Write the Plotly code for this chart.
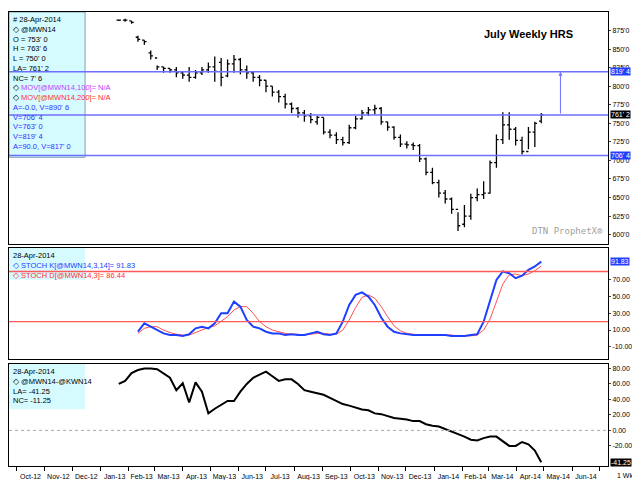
import pandas as pd
import plotly.graph_objects as go
from plotly.subplots import make_subplots

# weekly bars, July HRS (@MWN14), cents/cwt
week_start = "2013-01-21"
n_weeks = 67
opens = [889, 889, 888, 866, 862, 845, 838, 826, 824, 822, 818, 815, 812, 818, 822, 826, 832, 814, 830, 836,
         822, 818, 812, 808, 800, 792, 786, 776, 770, 764, 760, 752, 758, 738, 734, 728, 724, 744, 756, 764,
         768, 770, 752, 745, 731, 722, 721, 720, 702, 684, 670, 656, 648, 634, 614, 625, 650, 654, 656, 697,
         728, 748, 742, 727, 712, 738, 753]
highs = [890, 891, 888, 868, 862, 848, 828, 826, 824, 826, 820, 826, 822, 826, 832, 840, 838, 836, 842, 838,
         828, 820, 815, 808, 800, 795, 790, 778, 772, 768, 764, 760, 758, 742, 738, 732, 748, 760, 768, 772,
         775, 772, 752, 746, 735, 726, 724, 722, 704, 690, 674, 660, 650, 630, 640, 655, 662, 672, 700, 735,
         765, 765, 745, 732, 745, 752, 764]
lows = [888, 887, 884, 860, 856, 836, 822, 818, 818, 812, 810, 806, 810, 815, 818, 806, 800, 812, 818, 816,
        810, 806, 800, 792, 786, 778, 770, 764, 758, 752, 750, 748, 735, 730, 722, 720, 722, 742, 755, 760,
        762, 748, 740, 728, 718, 716, 714, 698, 680, 668, 650, 642, 628, 605, 610, 620, 645, 648, 655, 690,
        722, 728, 720, 708, 715, 718, 750]
closes = [889, 889, 886, 863, 860, 841, 826, 824, 822, 818, 815, 812, 818, 822, 826, 820, 812, 830, 836, 822,
          818, 812, 808, 800, 792, 786, 776, 770, 764, 760, 755, 758, 738, 734, 728, 724, 744, 756, 764, 768,
          770, 752, 745, 731, 722, 721, 720, 702, 684, 670, 656, 648, 634, 612, 625, 650, 654, 656, 697, 728,
          748, 742, 727, 712, 738, 750, 761.25]

stoch_k = [None, None, None, 8, 18, 14, 10, 6, 4, 4, 3, 5, 12, 14, 12, 18, 30, 30, 44, 38,
           22, 14, 12, 8, 6, 6, 4, 5, 4, 4, 6, 8, 5, 4, 6, 20, 40, 52, 55, 50,
           40, 25, 14, 8, 6, 5, 4, 4, 4, 4, 4, 4, 3, 3, 3, 4, 5, 20, 45, 70,
           80, 78, 72, 75, 82, 86, 91.83]
stoch_d = [None, None, None, 6, 12, 14, 14, 10, 7, 5, 4, 4, 7, 10, 13, 15, 20, 26, 34, 38,
           38, 30, 20, 14, 10, 8, 6, 5, 5, 4, 5, 6, 6, 5, 5, 10, 22, 37, 49, 52,
           48, 38, 26, 15, 9, 6, 5, 4, 4, 4, 4, 4, 4, 3, 3, 3, 4, 10, 23, 45,
           65, 76, 77, 75, 77, 81, 86.44]

spread = [60, 64, 74, 78, 80, 80, 79, 74, 68, 52, 61, 36, 62, 50, 22, 28, 33, 38, 38, 50,
          60, 68, 72, 76, 70, 64, 66, 66, 60, 52, 50, 48, 46, 42, 38, 34, 32, 30, 27, 26,
          22, 21, 18, 16, 15, 14, 12, 12, 8, 6, 5, 2, -2, -4, -8, -12, -13, -10, -8, -8,
          -14, -20, -20, -15, -18, -26, -41.25]

levels = [819.5, 761.25, 706.5]
price_ticks = [600, 625, 650, 675, 700, 725, 750, 775, 800, 825, 850, 875]
stoch_ticks = [-10, 10, 30, 50, 70]
stoch_bands = [80, 20]
spread_ticks = [-20, 0, 20, 40, 60, 80]

for arr in (opens, highs, lows, closes, stoch_k, stoch_d, spread):
    assert len(arr) == n_weeks, len(arr)

dates = pd.date_range(week_start, periods=n_weeks, freq="7D")

FONT = "Liberation Sans Narrow, Liberation Sans"
BLUE = "#6f6fff"

fig = make_subplots(rows=3, cols=1, shared_xaxes=True, vertical_spacing=0.01,
                    row_heights=[0.51, 0.245, 0.225])

fig.add_trace(go.Ohlc(x=dates, open=opens, high=highs, low=lows, close=closes,
                      increasing_line_color="black", decreasing_line_color="black",
                      line_width=1.3, tickwidth=0.35, showlegend=False), row=1, col=1)
fig.add_trace(go.Scatter(x=dates, y=stoch_d, mode="lines", line=dict(color="#ff5050", width=1),
                         showlegend=False), row=2, col=1)
fig.add_trace(go.Scatter(x=dates, y=stoch_k, mode="lines", line=dict(color="#1f3fff", width=2),
                         showlegend=False), row=2, col=1)
fig.add_trace(go.Scatter(x=dates, y=spread, mode="lines", line=dict(color="black", width=2),
                         showlegend=False), row=3, col=1)

for lv in levels:
    fig.add_hline(y=lv, line_color=BLUE, line_width=1.5, row=1, col=1)
for lv in stoch_bands:
    fig.add_hline(y=lv, line_color="#ff5a5a", line_width=1.3, row=2, col=1)
fig.add_hline(y=0, line_color="#aaaaaa", line_width=1, line_dash="dot", row=3, col=1)

# target arrow
fig.add_annotation(x="2014-05-19", y=819.5, ax="2014-05-19", ay=761.25, xref="x", yref="y",
                   axref="x", ayref="y", showarrow=True, arrowhead=2, arrowsize=0.8,
                   arrowwidth=1, arrowcolor=BLUE, text="")

fig.update_xaxes(range=["2012-09-23", "2014-07-10"], showgrid=False, showline=True, linecolor="black",
                 mirror=True, ticks="", showticklabels=False, rangeslider_visible=False)
fig.update_xaxes(row=3, col=1, showticklabels=True, dtick="M1", tickformat="%b-%y", tickangle=0,
                 ticklabelmode="period", ticks="outside", ticklen=4, tickcolor="black",
                 tickfont=dict(family=FONT, size=7, color="black"))

axfont = dict(family=FONT, size=7, color="black")
fig.update_yaxes(side="right", showgrid=False, showline=True, linecolor="black", mirror=True,
                 ticks="outside", ticklen=2, tickfont=axfont, zeroline=False)
fig.update_yaxes(row=1, col=1, range=[588, 900], tickvals=price_ticks,
                 ticktext=[f"{v}'0" for v in price_ticks])
fig.update_yaxes(row=2, col=1, range=[-25, 108], tickvals=stoch_ticks,
                 ticktext=[f"{v:.2f}" for v in stoch_ticks])
fig.update_yaxes(row=3, col=1, range=[-46, 86], tickvals=spread_ticks,
                 ticktext=[f"{v:.2f}" for v in spread_ticks])

# value flags on right axis
def flag(text, y, yref, bg, fg="white"):
    fig.add_annotation(x=1.004, y=y, xref="paper", yref=yref, text=text, showarrow=False,
                       xanchor="left", yanchor="middle", bgcolor=bg,
                       font=dict(family=FONT, size=7, color=fg), borderpad=0)

flag("819' 4", 819.5, "y", "#2040ff")
flag("761' 2", 761.25, "y", "black")
flag("706' 4", 706.5, "y", "#2040ff")
flag("91.83", 91.83, "y2", "#2040ff")
flag("-41.25", -41.25, "y3", "black")
fig.add_annotation(x=1.045, y=-0.022, xref="paper", yref="paper", text="1 Wk", showarrow=False,
                   xanchor="right", yanchor="middle", font=dict(family=FONT, size=7, color="black"))

# legend panels
dom1 = fig.layout.yaxis.domain
dom2 = fig.layout.yaxis2.domain
dom3 = fig.layout.yaxis3.domain
fig.add_shape(type="rect", xref="paper", yref="paper", x0=0, x1=0.127, y0=dom1[0] + 0.19, y1=dom1[1],
              fillcolor="#d6fbff", line=dict(color="#7fa0b0", width=1), layer="below")
fig.add_shape(type="rect", xref="paper", yref="paper", x0=0, x1=0.127, y0=dom2[1] - 0.07, y1=dom2[1],
              fillcolor="#d6fbff", line=dict(width=0), layer="below")
fig.add_shape(type="rect", xref="paper", yref="paper", x0=0, x1=0.127, y0=dom3[1] - 0.1, y1=dom3[1],
              fillcolor="#d6fbff", line=dict(width=0), layer="below")

price_lines = [("# 28-Apr-2014", "black"), ("◇ @MWN14", "black"), ("O = 753' 0", "black"),
               ("H = 763' 6", "black"), ("L = 750' 0", "black"), ("LA= 761' 2", "black"),
               ("NC= 7' 6", "black"), ("◇ <span style='color:#c040ff'>MOV[@MWN14,100]= N/A</span>", "black"),
               ("◇ <span style='color:#ff3030'>MOV[@MWN14,200]= N/A</span>", "black"),
               ("A=-0.0, V=890' 6", "#3030ff"), ("V=706' 4", "#3030ff"), ("V=763' 0", "#3030ff"),
               ("V=819' 4", "#3030ff"), ("A=90.0, V=817' 0", "#3030ff")]
fig.add_annotation(x=0.003, y=dom1[1] - 0.003, xref="paper", yref="paper", xanchor="left", yanchor="top",
                   align="left", showarrow=False,
                   text="<br>".join(f"<span style='color:{c}'>{t}</span>" for t, c in price_lines),
                   font=dict(family=FONT, size=7.5))
fig.add_annotation(x=0.003, y=dom2[1] - 0.003, xref="paper", yref="paper", xanchor="left", yanchor="top",
                   align="left", showarrow=False,
                   text="28-Apr-2014<br><span style='color:#2040ff'>◇ STOCH K[@MWN14,3,14]= 91.83</span>"
                        "<br><span style='color:#ff3030'>◇ STOCH D[@MWN14,3]= 86.44</span>",
                   font=dict(family=FONT, size=7.5, color="black"))
fig.add_annotation(x=0.003, y=dom3[1] - 0.003, xref="paper", yref="paper", xanchor="left", yanchor="top",
                   align="left", showarrow=False,
                   text="28-Apr-2014<br>◇ @MWN14-@KWN14<br>LA= -41.25<br>NC= -11.25",
                   font=dict(family=FONT, size=7.5, color="black"))

fig.add_annotation(x=0.945, y=0.97, xref="paper", yref="paper", text="<b>July Weekly HRS</b>",
                   showarrow=False, xanchor="right", font=dict(family="Liberation Sans", size=11, color="black"))
fig.add_annotation(x=0.995, y=dom1[0] + 0.012, xref="paper", yref="paper", text="DTN ProphetX®",
                   showarrow=False, xanchor="right", yanchor="bottom",
                   font=dict(family="DejaVu Sans Mono", size=9, color="#a0a0a0"))

fig.update_layout(width=640, height=480, margin=dict(l=1, r=40, t=4, b=22),
                  paper_bgcolor="white", plot_bgcolor="white", showlegend=False)

fig.write_html("out.html")
